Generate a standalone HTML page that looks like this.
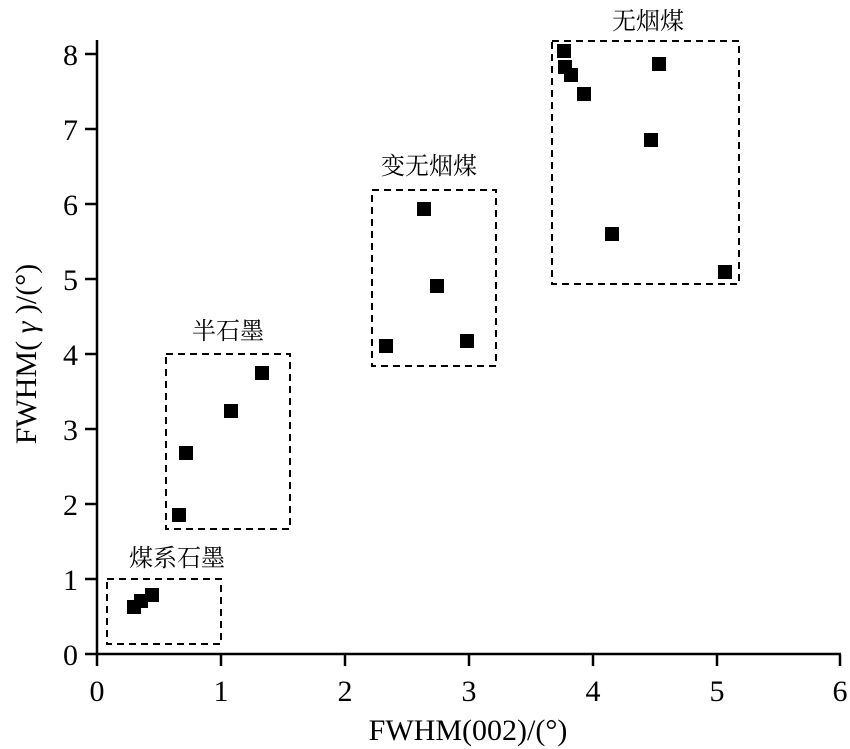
<!DOCTYPE html>
<html><head><meta charset="utf-8"><style>body{margin:0;background:#fff}svg{display:block}</style></head><body>
<svg width="850" height="749" viewBox="0 0 850 749" xmlns="http://www.w3.org/2000/svg">
<g stroke="#000" stroke-width="2.5" fill="none">
<line x1="97" y1="40" x2="97" y2="666"/>
<line x1="85" y1="654" x2="841" y2="654"/>
<line x1="221" y1="654" x2="221" y2="666"/><line x1="345" y1="654" x2="345" y2="666"/><line x1="469" y1="654" x2="469" y2="666"/><line x1="593" y1="654" x2="593" y2="666"/><line x1="717" y1="654" x2="717" y2="666"/><line x1="840" y1="654" x2="840" y2="666"/>
<line x1="85" y1="579" x2="97" y2="579"/><line x1="85" y1="504" x2="97" y2="504"/><line x1="85" y1="429" x2="97" y2="429"/><line x1="85" y1="354" x2="97" y2="354"/><line x1="85" y1="279" x2="97" y2="279"/><line x1="85" y1="204" x2="97" y2="204"/><line x1="85" y1="129" x2="97" y2="129"/><line x1="85" y1="54" x2="97" y2="54"/>
</g>
<g stroke="#000" stroke-width="2" fill="none" stroke-dasharray="7,5">
<rect x="107" y="579" width="114" height="65"/>
<rect x="166" y="354" width="124" height="175"/>
<rect x="372" y="190" width="124" height="176"/>
<rect x="552" y="41" width="187" height="243"/>
</g>
<g fill="#000">
<rect x="127" y="600" width="14" height="14"/><rect x="134" y="594" width="14" height="14"/><rect x="145" y="588" width="14" height="14"/>
<rect x="172" y="508" width="14" height="14"/><rect x="179" y="446" width="14" height="14"/><rect x="224" y="404" width="14" height="14"/><rect x="255" y="366" width="14" height="14"/>
<rect x="379" y="339" width="14" height="14"/><rect x="417" y="202" width="14" height="14"/><rect x="430" y="279" width="14" height="14"/><rect x="460" y="334" width="14" height="14"/>
<rect x="557" y="44" width="14" height="14"/><rect x="558" y="60" width="14" height="14"/><rect x="564" y="68" width="14" height="14"/><rect x="577" y="87" width="14" height="14"/><rect x="605" y="227" width="14" height="14"/><rect x="644" y="133" width="14" height="14"/><rect x="652" y="57" width="14" height="14"/><rect x="718" y="265" width="14" height="14"/>
</g>
<g font-family="Liberation Serif, serif" font-size="30" fill="#000" text-anchor="middle">
<text x="97" y="701">0</text><text x="221" y="701">1</text><text x="345" y="701">2</text><text x="469" y="701">3</text><text x="593" y="701">4</text><text x="717" y="701">5</text><text x="840" y="701">6</text>
<g text-anchor="end"><text x="78" y="665">0</text><text x="78" y="590">1</text><text x="78" y="515">2</text><text x="78" y="440">3</text><text x="78" y="365">4</text><text x="78" y="290">5</text><text x="78" y="215">6</text><text x="78" y="140">7</text><text x="78" y="65">8</text></g>
<text x="468" y="740" font-size="30">FWHM(002)/(°)</text>
<text transform="translate(36,354) rotate(-90)" font-size="30">FWHM( <tspan font-style="italic">γ</tspan> )/(°)</text>
</g>
<g font-family="Liberation Serif, 'Noto Serif CJK SC', serif" font-size="24" fill="#000" text-anchor="middle">
<text x="177" y="566">煤系石墨</text><text x="228" y="339">半石墨</text><text x="429" y="174">变无烟煤</text><text x="648" y="29">无烟煤</text>
</g>
</svg>
</body></html>
